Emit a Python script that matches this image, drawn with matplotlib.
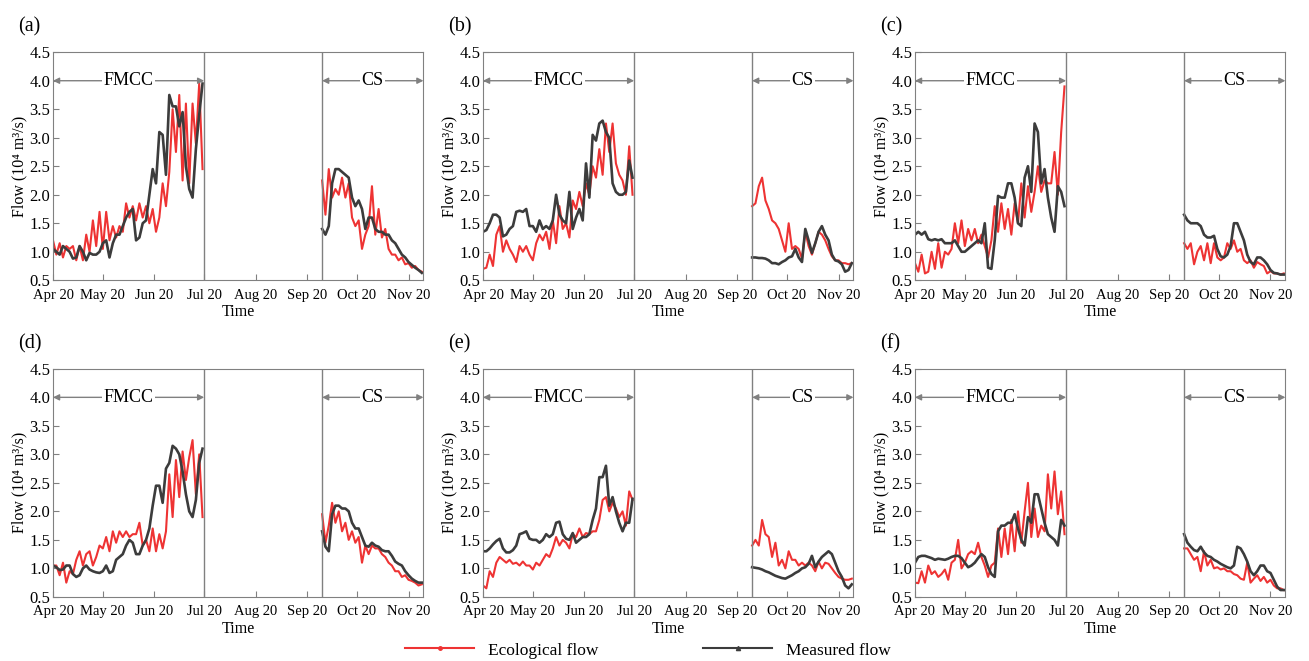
import matplotlib
matplotlib.use("Agg")
import matplotlib.pyplot as plt
import matplotlib.dates as mdates
from matplotlib.lines import Line2D
import pandas as pd

plt.rcParams['font.family'] = ['Liberation Serif', 'DejaVu Serif']

# sampling dates (every 2 days) for the two periods
fmcc_dates = pd.date_range('2020-04-01', '2020-06-30', freq='2D')
cs_dates = pd.date_range('2020-09-10', '2020-11-09', freq='2D')

# ---- data (10^4 m3/s) ----
a_eco_fmcc = [1.20, 0.95, 1.15, 0.90, 1.10, 1.05, 1.10, 0.85, 1.10, 0.85, 1.30, 1.00, 1.55, 1.10, 1.70, 1.05,
              1.70, 1.20, 1.45, 1.25, 1.45, 1.35, 1.85, 1.60, 1.80, 1.55, 1.85, 1.60, 1.80, 1.50, 1.75, 1.35,
              1.60, 2.20, 1.80, 2.40, 3.50, 2.75, 3.75, 2.25, 3.60, 2.20, 3.60, 2.90, 3.95, 2.45]
a_mea_fmcc = [1.05, 1.00, 0.95, 1.10, 1.05, 1.00, 0.88, 0.90, 1.10, 1.00, 0.85, 0.98, 0.95, 0.95, 1.00, 1.15,
              1.20, 0.90, 1.15, 1.30, 1.30, 1.45, 1.60, 1.70, 1.75, 1.20, 1.25, 1.50, 1.55, 2.00, 2.45, 2.20,
              3.10, 3.05, 2.35, 3.75, 3.55, 3.55, 3.20, 3.45, 2.50, 2.10, 1.95, 2.80, 3.40, 3.95]
a_eco_cs = [2.25, 1.65, 2.45, 1.95, 2.10, 2.00, 2.30, 1.95, 2.20, 1.60, 1.45, 1.55, 1.05, 1.30, 1.45, 2.15,
            1.30, 1.75, 1.25, 1.40, 1.05, 0.95, 0.95, 0.85, 0.90, 0.78, 0.80, 0.72, 0.75, 0.68, 0.65]
a_mea_cs = [1.40, 1.30, 1.45, 2.20, 2.45, 2.45, 2.40, 2.35, 2.30, 1.95, 1.80, 1.90, 1.75, 1.40, 1.60, 1.60,
            1.40, 1.35, 1.35, 1.30, 1.30, 1.20, 1.15, 1.05, 0.95, 0.90, 0.82, 0.77, 0.72, 0.68, 0.63]

b_eco_fmcc = [0.70, 0.72, 0.95, 0.75, 1.30, 1.45, 1.00, 1.20, 1.05, 0.95, 0.82, 1.10, 1.00, 1.10, 0.95, 0.85,
              1.15, 1.30, 1.20, 1.35, 1.05, 1.55, 1.15, 1.80, 1.40, 1.50, 1.25, 1.90, 1.75, 2.05, 1.80, 2.20,
              2.00, 2.50, 2.30, 2.80, 2.35, 3.25, 2.75, 3.25, 2.55, 2.35, 2.25, 2.00, 2.85, 2.00]
b_mea_fmcc = [1.35, 1.38, 1.50, 1.65, 1.65, 1.60, 1.27, 1.30, 1.40, 1.45, 1.70, 1.72, 1.70, 1.75, 1.45, 1.45,
              1.35, 1.55, 1.40, 1.45, 1.40, 1.55, 2.00, 1.65, 1.55, 1.50, 2.05, 1.40, 1.60, 1.75, 1.55, 2.55,
              1.95, 3.05, 2.95, 3.25, 3.30, 3.10, 3.00, 2.20, 2.05, 2.00, 2.00, 2.05, 2.60, 2.30]
b_eco_cs = [1.80, 1.85, 2.15, 2.30, 1.90, 1.75, 1.55, 1.50, 1.40, 1.20, 1.00, 1.50, 1.05, 1.10, 1.05, 0.88,
            1.35, 1.10, 0.95, 1.15, 1.35, 1.30, 1.20, 1.05, 0.92, 0.85, 0.85, 0.80, 0.80, 0.78, 0.80]
b_mea_cs = [0.90, 0.90, 0.89, 0.89, 0.88, 0.85, 0.80, 0.80, 0.78, 0.82, 0.85, 0.90, 0.92, 1.05, 0.90, 0.82,
            1.40, 1.20, 0.98, 1.15, 1.35, 1.45, 1.30, 1.20, 0.95, 0.85, 0.83, 0.78, 0.65, 0.68, 0.80]

c_eco_fmcc = [0.80, 0.65, 0.95, 0.62, 0.65, 1.00, 0.70, 1.15, 0.72, 1.00, 0.95, 1.05, 1.50, 1.15, 1.55, 1.10,
              1.40, 1.20, 1.40, 1.15, 1.30, 1.10, 0.90, 1.20, 1.80, 1.35, 1.85, 1.40, 1.75, 1.30, 1.85, 1.50,
              2.20, 1.60, 2.15, 1.70, 2.05, 2.50, 2.05, 2.25, 2.20, 2.20, 2.75, 2.00, 3.10, 3.90]
c_mea_fmcc = [1.30, 1.35, 1.30, 1.35, 1.22, 1.20, 1.22, 1.20, 1.22, 1.15, 1.15, 1.15, 1.20, 1.10, 1.00, 1.00,
              1.05, 1.10, 1.15, 1.20, 1.15, 1.50, 0.72, 0.70, 1.20, 1.98, 1.95, 1.95, 2.20, 2.20, 1.95, 1.50,
              1.45, 2.30, 2.50, 2.05, 3.25, 3.10, 2.20, 2.45, 1.95, 1.60, 1.35, 2.15, 2.05, 1.80]
c_eco_cs = [1.15, 1.05, 1.15, 0.78, 1.00, 1.10, 0.85, 1.15, 0.80, 1.15, 0.90, 0.85, 0.90, 1.15, 1.05, 1.20,
            1.00, 1.05, 0.85, 0.80, 0.85, 0.72, 0.82, 0.78, 0.75, 0.62, 0.66, 0.62, 0.62, 0.60, 0.62]
c_mea_cs = [1.65, 1.55, 1.50, 1.50, 1.50, 1.45, 1.30, 1.25, 1.25, 1.28, 1.05, 0.92, 0.90, 0.95, 1.10, 1.50,
            1.50, 1.35, 1.20, 0.95, 0.82, 0.78, 0.90, 0.90, 0.85, 0.78, 0.68, 0.63, 0.62, 0.60, 0.60]

d_eco_fmcc = [1.05, 1.05, 0.88, 1.10, 0.75, 0.95, 0.90, 1.15, 1.30, 1.05, 1.25, 1.30, 1.05, 1.20, 1.40, 1.35,
              1.55, 1.30, 1.65, 1.45, 1.65, 1.55, 1.65, 1.55, 1.60, 1.60, 1.80, 1.40, 1.50, 1.30, 1.70, 1.30,
              1.60, 1.35, 1.65, 2.65, 1.90, 2.90, 2.25, 3.05, 2.55, 2.95, 3.25, 2.30, 3.00, 1.90]
d_mea_fmcc = [1.05, 1.02, 0.97, 0.98, 1.05, 1.05, 0.90, 0.85, 0.88, 1.00, 1.05, 0.98, 0.95, 0.93, 0.92, 0.95,
              1.05, 0.92, 0.95, 1.15, 1.20, 1.25, 1.40, 1.50, 1.45, 1.25, 1.25, 1.40, 1.50, 1.70, 2.10, 2.45,
              2.45, 2.15, 2.75, 2.85, 3.15, 3.10, 3.00, 2.70, 2.30, 2.00, 1.90, 2.20, 2.85, 3.10]
d_eco_cs = [1.95, 1.45, 1.75, 2.15, 1.80, 2.00, 1.65, 1.80, 1.50, 1.65, 1.45, 1.55, 1.10, 1.40, 1.25, 1.40,
            1.35, 1.35, 1.25, 1.20, 1.10, 1.05, 0.95, 0.95, 0.85, 0.88, 0.80, 0.78, 0.75, 0.70, 0.72]
d_mea_cs = [1.65, 1.38, 1.30, 1.95, 2.10, 2.10, 2.05, 2.05, 2.00, 1.80, 1.70, 1.70, 1.55, 1.40, 1.38, 1.45,
            1.40, 1.38, 1.32, 1.30, 1.30, 1.22, 1.12, 1.08, 1.05, 0.95, 0.88, 0.82, 0.78, 0.75, 0.75]

e_eco_fmcc = [0.70, 0.65, 0.95, 0.85, 1.10, 1.20, 1.15, 1.10, 1.15, 1.08, 1.10, 1.05, 1.12, 1.05, 1.05, 0.98,
              1.10, 1.05, 1.15, 1.25, 1.20, 1.35, 1.55, 1.40, 1.50, 1.45, 1.35, 1.60, 1.55, 1.70, 1.55, 1.62,
              1.60, 1.65, 1.65, 1.85, 2.20, 2.25, 2.00, 2.15, 2.05, 1.90, 2.00, 1.75, 2.35, 2.20]
e_mea_fmcc = [1.30, 1.30, 1.35, 1.42, 1.48, 1.52, 1.35, 1.28, 1.28, 1.32, 1.40, 1.60, 1.62, 1.65, 1.52, 1.50,
              1.50, 1.45, 1.50, 1.60, 1.55, 1.60, 1.80, 1.82, 1.60, 1.52, 1.50, 1.62, 1.45, 1.50, 1.55, 1.55,
              1.60, 1.85, 2.05, 2.60, 2.60, 2.80, 2.10, 2.25, 2.00, 1.80, 1.65, 1.80, 1.80, 2.22]
e_eco_cs = [1.40, 1.50, 1.40, 1.85, 1.60, 1.55, 1.20, 1.45, 1.05, 1.15, 1.00, 1.30, 1.15, 1.15, 1.05, 1.10,
            1.05, 1.10, 1.05, 0.95, 1.12, 1.00, 1.10, 1.08, 1.00, 0.92, 0.85, 0.82, 0.80, 0.80, 0.82]
e_mea_cs = [1.02, 1.01, 1.00, 0.98, 0.95, 0.93, 0.90, 0.87, 0.85, 0.83, 0.82, 0.85, 0.88, 0.92, 0.95, 1.00,
            1.02, 1.08, 1.22, 1.02, 1.12, 1.20, 1.25, 1.30, 1.25, 1.10, 0.95, 0.85, 0.70, 0.65, 0.72]

f_eco_fmcc = [0.75, 0.74, 0.95, 0.75, 1.05, 0.90, 0.95, 0.85, 0.90, 0.98, 0.80, 1.10, 1.15, 1.50, 1.00, 1.10,
              1.25, 1.30, 1.25, 1.45, 1.20, 1.05, 0.85, 1.05, 1.10, 1.70, 1.20, 1.70, 1.25, 1.85, 1.30, 2.00,
              1.45, 2.00, 2.50, 1.55, 2.05, 1.55, 1.75, 1.65, 2.65, 2.05, 2.70, 1.95, 2.35, 1.60]
f_mea_fmcc = [1.10, 1.20, 1.22, 1.22, 1.20, 1.18, 1.15, 1.17, 1.16, 1.15, 1.17, 1.20, 1.22, 1.22, 1.18, 1.10,
              1.02, 1.05, 1.10, 1.18, 1.25, 1.20, 1.02, 0.90, 0.85, 1.65, 1.75, 1.75, 1.80, 1.80, 1.95, 1.70,
              1.50, 1.40, 1.90, 1.80, 2.30, 2.30, 2.05, 1.80, 1.60, 1.55, 1.50, 1.40, 1.85, 1.75]
f_eco_cs = [1.35, 1.35, 1.25, 1.15, 1.20, 0.95, 1.30, 1.05, 1.15, 1.00, 1.02, 0.98, 1.00, 0.95, 0.95, 0.90,
            0.88, 0.82, 0.80, 1.10, 0.75, 0.82, 0.88, 0.78, 0.85, 0.75, 0.80, 0.70, 0.65, 0.65, 0.62]
f_mea_cs = [1.60, 1.45, 1.38, 1.32, 1.30, 1.38, 1.28, 1.22, 1.20, 1.15, 1.12, 1.08, 1.05, 1.02, 1.00, 1.05,
            1.38, 1.35, 1.25, 1.12, 0.95, 0.88, 0.95, 1.05, 1.05, 0.95, 0.92, 0.80, 0.68, 0.62, 0.62]

panels = [
    ('(a)', a_eco_fmcc, a_mea_fmcc, a_eco_cs, a_mea_cs),
    ('(b)', b_eco_fmcc, b_mea_fmcc, b_eco_cs, b_mea_cs),
    ('(c)', c_eco_fmcc, c_mea_fmcc, c_eco_cs, c_mea_cs),
    ('(d)', d_eco_fmcc, d_mea_fmcc, d_eco_cs, d_mea_cs),
    ('(e)', e_eco_fmcc, e_mea_fmcc, e_eco_cs, e_mea_cs),
    ('(f)', f_eco_fmcc, f_mea_fmcc, f_eco_cs, f_mea_cs),
]

month_ticks = pd.date_range('2020-04-01', '2020-11-01', freq='MS')
x_start = pd.Timestamp('2020-04-01')
x_end = pd.Timestamp('2020-11-10')
fmcc_end = pd.Timestamp('2020-07-01')
cs_start = pd.Timestamp('2020-09-10')

red = '#ee3333'
dark = '#3c3c3c'
grey = '#808080'

fig = plt.figure(figsize=(13.09, 6.61), dpi=100)

lefts = [0.0405, 0.369, 0.699]
bottoms = [0.576, 0.097]
w, h = 0.283, 0.345

for i, (lab, eco_f, mea_f, eco_c, mea_c) in enumerate(panels):
    ax = fig.add_axes([lefts[i % 3], bottoms[i // 3], w, h])
    ax.plot(fmcc_dates, eco_f, color=red, lw=1.5)
    ax.plot(fmcc_dates, mea_f, color=dark, lw=1.9)
    ax.plot(cs_dates, eco_c, color=red, lw=1.5)
    ax.plot(cs_dates, mea_c, color=dark, lw=1.9)

    ax.axvline(fmcc_end, color=grey, lw=1)
    ax.axvline(cs_start, color=grey, lw=1)

    # period arrows
    ax.annotate('', xy=(x_start, 4.0), xytext=(fmcc_end, 4.0),
                arrowprops=dict(arrowstyle='<|-|>', color=grey, lw=1, mutation_scale=9,
                                shrinkA=0, shrinkB=0))
    ax.text(x_start + (fmcc_end - x_start) / 2, 4.0, 'FMCC', ha='center', va='center',
            fontsize=13, bbox=dict(facecolor='white', edgecolor='none', pad=1))
    ax.annotate('', xy=(cs_start, 4.0), xytext=(x_end, 4.0),
                arrowprops=dict(arrowstyle='<|-|>', color=grey, lw=1, mutation_scale=9,
                                shrinkA=0, shrinkB=0))
    ax.text(cs_start + (x_end - cs_start) / 2, 4.0, 'CS', ha='center', va='center',
            fontsize=13, bbox=dict(facecolor='white', edgecolor='none', pad=1))

    ax.set_xlim(x_start, x_end)
    ax.set_ylim(0.5, 4.5)
    ax.set_xticks(month_ticks)
    ax.xaxis.set_major_formatter(mdates.DateFormatter('%b %y'))
    ax.set_yticks([0.5, 1.0, 1.5, 2.0, 2.5, 3.0, 3.5, 4.0, 4.5])
    ax.set_yticklabels(['%.1f' % v for v in ax.get_yticks()])
    ax.tick_params(direction='in', length=4, color=grey)
    ax.tick_params(axis='x', labelsize=10.5, pad=6)
    ax.tick_params(axis='y', labelsize=12, pad=2)
    for s in ax.spines.values():
        s.set_color(grey)
    ax.set_xlabel('Time', fontsize=11.5, labelpad=2)
    ax.set_ylabel('Flow (10\u2074 m\u00b3/s)', fontsize=11.5, labelpad=1)
    ax.text(-0.095, 1.11, lab, transform=ax.transAxes, fontsize=14.5, va='center', ha='left')

handles = [Line2D([], [], color=red, lw=1.5, marker='.', markersize=5),
           Line2D([], [], color=dark, lw=1.5, marker='^', markersize=3)]
fig.legend(handles, ['Ecological flow', 'Measured flow'], loc='center',
           bbox_to_anchor=(0.495, 0.016), ncol=2, frameon=False, fontsize=12.5,
           handlelength=4.0, columnspacing=6.0, handletextpad=0.8)

plt.savefig('out.png', dpi=100)
